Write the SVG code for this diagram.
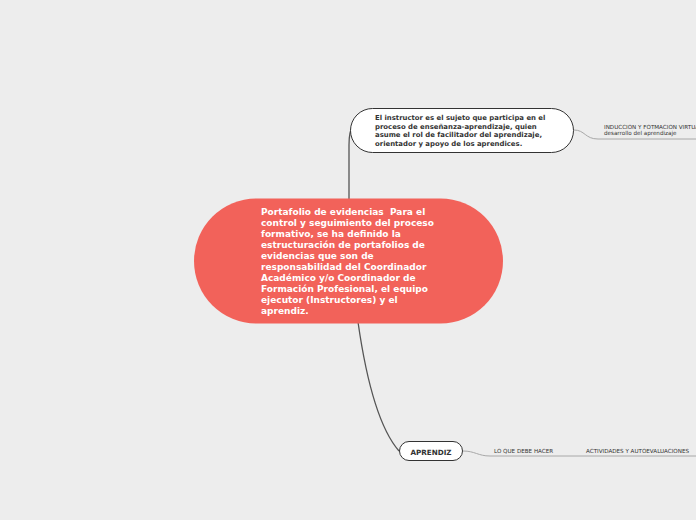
<svg xmlns="http://www.w3.org/2000/svg" width="696" height="520" viewBox="0 0 696 520">
<style>
.main{fill:#F2625A}
.node{fill:#fff;stroke:#333;stroke-width:1}
.conn{fill:none;stroke:#555;stroke-width:1.3}
.sub{fill:none;stroke:#a8a8a8;stroke-width:1}
.tm{font-family:"DejaVu Sans",Verdana,sans-serif;font-weight:bold;font-size:9px;fill:#fff}
.ti{font-family:"DejaVu Sans",Verdana,sans-serif;font-weight:bold;font-size:6.9px;fill:#333}
.ta{font-family:"DejaVu Sans",Verdana,sans-serif;font-weight:bold;font-size:7.2px;fill:#333}
.ts{font-family:"DejaVu Sans",Verdana,sans-serif;font-size:5.6px;fill:#333}
</style>
<rect width="696" height="520" fill="#EDEDED"/>
<g id="connectors">
<path class="conn" d="M349,200 L349,145 Q349,131 353,126"/>
<path class="conn" d="M358,322 Q372,420 399,451"/>
<path class="sub" d="M574,130 C585,130 585,139 598,139 L696,139"/>
<path class="sub" d="M463,451 C475,451 478,456 490,456 L696,456"/>
</g>
<g id="central">
<rect class="main" x="194" y="198.5" width="309" height="125" rx="62.5"/>
<text class="tm" xml:space="preserve">
<tspan x="261" y="215">Portafolio de evidencias  Para el</tspan>
<tspan x="261" y="226">control y seguimiento del proceso</tspan>
<tspan x="261" y="237">formativo, se ha definido la</tspan>
<tspan x="261" y="248">estructuración de portafolios de</tspan>
<tspan x="261" y="259">evidencias que son de</tspan>
<tspan x="261" y="270">responsabilidad del Coordinador</tspan>
<tspan x="261" y="281">Académico y/o Coordinador de</tspan>
<tspan x="261" y="292">Formación Profesional, el equipo</tspan>
<tspan x="261" y="303">ejecutor (Instructores) y el</tspan>
<tspan x="261" y="314">aprendiz.</tspan>
</text>
</g>
<g id="instructor">
<rect class="node" x="350.5" y="108.5" width="223" height="44" rx="22"/>
<text class="ti">
<tspan x="375" y="119.5">El instructor es el sujeto que participa en el</tspan>
<tspan x="375" y="128.5">proceso de enseñanza-aprendizaje, quien</tspan>
<tspan x="375" y="137">asume el rol de facilitador del aprendizaje,</tspan>
<tspan x="375" y="145.5">orientador y apoyo de los aprendices.</tspan>
</text>
</g>
<g id="induccion">
<text class="ts">
<tspan x="604" y="129">INDUCCION Y FOTMACION VIRTUAL</tspan>
<tspan x="604" y="135">desarrollo del aprendizaje</tspan>
</text>
</g>
<g id="aprendiz">
<rect class="node" x="399.5" y="441.5" width="63" height="19" rx="9.5"/>
<text class="ta" x="431" y="454.5" text-anchor="middle">APRENDIZ</text>
</g>
<g id="lo-que-debe-hacer">
<text class="ts" x="494" y="453">LO QUE DEBE HACER</text>
</g>
<g id="actividades">
<text class="ts" x="586" y="453">ACTIVIDADES Y AUTOEVALUACIONES</text>
</g>
</svg>
